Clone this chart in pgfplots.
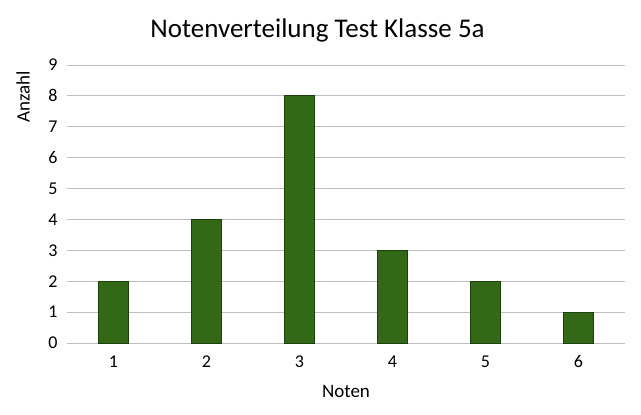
\documentclass[border=0pt]{standalone}
\usepackage{pgfplots}
\pgfplotsset{compat=1.18}
\usepackage{fontspec}
\setmainfont{Carlito}

\definecolor{barfill}{RGB}{51,105,22}
\definecolor{barline}{RGB}{28,64,10}
\definecolor{gridgray}{RGB}{190,190,190}

\begin{document}
\begin{tikzpicture}
\useasboundingbox (-67pt,-72pt) rectangle (574pt,343pt);
\begin{axis}[
    at={(0,0)}, anchor=south west,
    scale only axis,
    width=558pt, height=278pt,
    ybar,
    bar width=30pt,
    xmin=0.5, xmax=6.5,
    ymin=0, ymax=9,
    xtick=data,
    ytick={0,1,...,9},
    ymajorgrids,
    major grid style={gridgray, line width=0.8pt},
    axis line style={draw=none},
    major tick length=0pt,
    tick label style={font=\fontsize{18}{20}\selectfont},
    /pgf/number format/assume math mode=true,
    yticklabel style={xshift=-6pt},
    xticklabel style={yshift=-9pt},
    clip=false,
]
\addplot[fill=barfill, draw=barline, line width=0.8pt] coordinates {
    (1,2) (2,4) (3,8) (4,3) (5,2) (6,1)
};
\node[font=\fontsize{27}{32}\selectfont, anchor=base] at ([yshift=28pt]rel axis cs:0.449,1) {Notenverteilung Test Klasse 5a};
\node[font=\fontsize{19}{22}\selectfont, anchor=base] at ([yshift=-55pt]rel axis cs:0.5,0) {Noten};
\node[font=\fontsize{19}{22}\selectfont, rotate=90, anchor=center] at ([xshift=-44pt]rel axis cs:0,0.885) {Anzahl};
\end{axis}
\end{tikzpicture}
\end{document}
